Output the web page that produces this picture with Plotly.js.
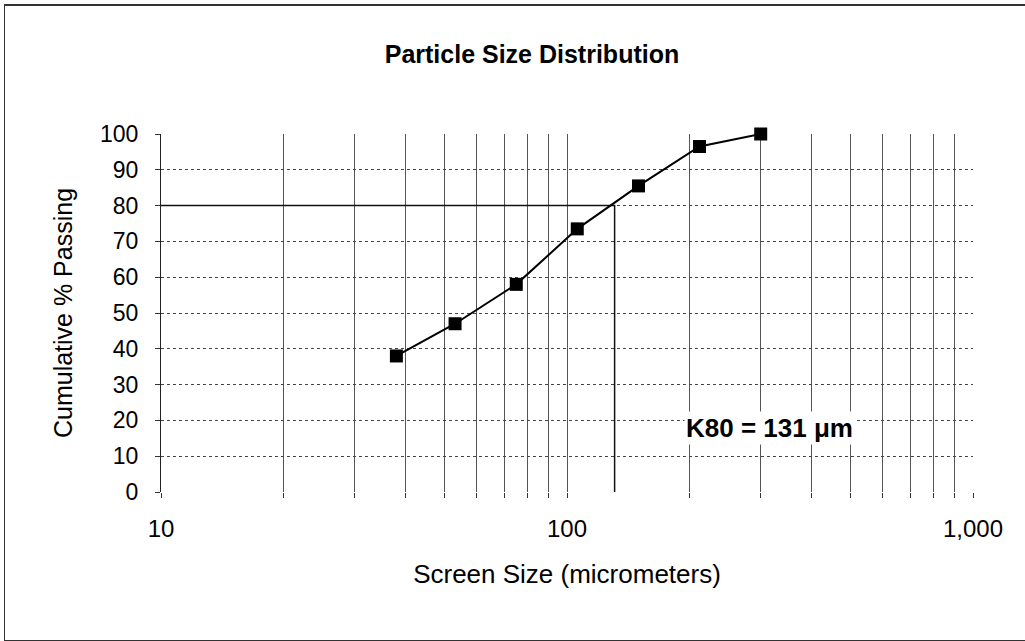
<!DOCTYPE html>
<html>
<head>
<meta charset="utf-8">
<script src="https://cdn.plot.ly/plotly-3.0.1.min.js"></script>
<style>
  html, body { margin: 0; padding: 0; background: #fff; overflow: hidden; }
  #chart { width: 1025px; height: 641px; }
  #frame { position: absolute; left: 4px; top: 4px; width: 1040px; height: 634px;
           border-left: 1px solid #333; border-top: 2px solid #333; border-bottom: 1px solid #333;
           pointer-events: none; }
</style>
</head>
<body>
<div id="chart"></div>
<div id="frame"></div>
<script>
// Screen sizes (micrometers) and cumulative % passing
const screenSize = [38, 53, 75, 106, 150, 212, 300];
const cumPassing = [38, 47, 58, 73.5, 85.5, 96.5, 100];

// K80 marker lines
const k80Value = 131;
const k80Level = 80;
const k80X = [10, k80Value, k80Value];
const k80Y = [k80Level, k80Level, 0];

// Tick grid values and labels
const xTickVals = [10,20,30,40,50,60,70,80,90,100,200,300,400,500,600,700,800,900,1000];
const xTickText = ['10','','','','','','','','','100','','','','','','','','','1,000'];
const yTickVals = [0,10,20,30,40,50,60,70,80,90,100];

const font = "Liberation Sans, Arial, sans-serif";

const traces = [
  {
    x: k80X, y: k80Y, mode: 'lines', type: 'scatter',
    line: { color: '#111', width: 1.5 }, hoverinfo: 'skip', showlegend: false
  },
  {
    x: screenSize, y: cumPassing, mode: 'lines+markers', type: 'scatter',
    line: { color: '#000', width: 2 },
    marker: { symbol: 'square', size: 13, color: '#000' },
    cliponaxis: false,
    showlegend: false
  }
];

const layout = {
  width: 1025, height: 641,
  margin: { l: 161, r: 52, t: 134, b: 149 },
  paper_bgcolor: '#fff', plot_bgcolor: '#fff',
  font: { family: font, color: '#000', size: 23 },
  title: {
    text: '<b>Particle Size Distribution</b>',
    font: { family: font, size: 25, color: '#000' },
    x: 0.519, xref: 'container', xanchor: 'center',
    y: 0.915, yref: 'container', yanchor: 'middle'
  },
  xaxis: {
    type: 'log', range: [1, 3],
    tickmode: 'array', tickvals: xTickVals, ticktext: xTickText,
    ticks: 'outside', ticklen: 5, tickcolor: '#333',
    tickfont: { family: font, size: 24 },
    ticklabelstandoff: 10,
    showgrid: true, gridcolor: '#555', gridwidth: 1, griddash: 'solid',
    showline: false, zeroline: false,
    title: { text: 'Screen Size (micrometers)', font: { family: font, size: 26 }, standoff: 24 },
    fixedrange: true
  },
  yaxis: {
    range: [0, 100],
    tickmode: 'array', tickvals: yTickVals,
    ticks: 'outside', ticklen: 5, tickcolor: '#333',
    tickfont: { family: font, size: 23 },
    ticklabelstandoff: 12,
    showgrid: true, gridcolor: '#444', gridwidth: 1, griddash: 'dot',
    showline: true, linecolor: '#222', linewidth: 1,
    zeroline: false,
    title: { text: 'Cumulative % Passing', font: { family: font, size: 25 }, standoff: 20 },
    fixedrange: true
  },
  annotations: [{
    x: Math.log10(316), y: 18, xref: 'x', yref: 'y',
    text: '<b>K80 = ' + k80Value + ' μm</b>',
    showarrow: false, bgcolor: '#fff',
    font: { family: font, size: 26, color: '#000' }
  }]
};

Plotly.newPlot('chart', traces, layout, { displayModeBar: false, staticPlot: true });
</script>
</body>
</html>
